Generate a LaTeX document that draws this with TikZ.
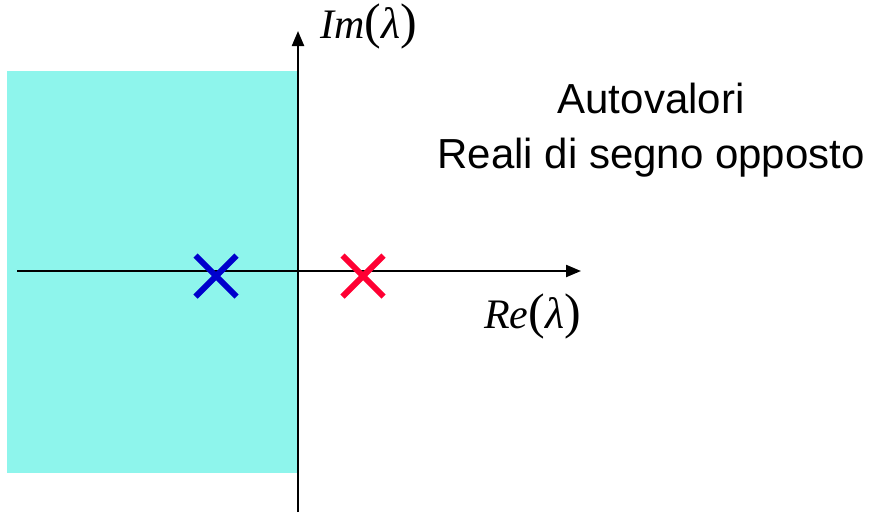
\documentclass[tikz,border=0pt]{standalone}
\usepackage{fontspec}
\setmainfont{Liberation Sans}
\newfontfamily\serifit{Liberation Serif}
\usetikzlibrary{arrows.meta,shapes.misc}
\definecolor{regioncyan}{RGB}{142,245,236}
\definecolor{poleblue}{RGB}{0,0,204}
\definecolor{polered}{RGB}{255,0,51}
\tikzset{
  axisline/.style={line width=2.2pt,-{Triangle[length=15pt,width=12pt]}},
  pole/.style={cross out,draw,line width=6pt,minimum size=41pt,inner sep=0pt,outer sep=0pt},
  axislabel/.style={inner sep=0pt,anchor=base west},
  note/.style={align=center,inner sep=0pt,font=\fontsize{42}{55}\selectfont}
}
\newcommand{\cplxlabel}[1]{{\serifit\fontsize{42}{42}\selectfont\itshape #1}{\serifit\fontsize{50}{50}\selectfont(}{\serifit\fontsize{44}{44}\selectfont\itshape λ}{\serifit\fontsize{50}{50}\selectfont)}}
\begin{document}
\begin{tikzpicture}[x=1pt,y=-1pt]
\useasboundingbox (0,0) rectangle (878,512);
\fill[regioncyan] (7,71) rectangle (297,473);
\coordinate (xstart) at (17,271);
\coordinate (xend) at (581,271);
\coordinate (ystart) at (298,512);
\coordinate (yend) at (298,31);
\draw[axisline] (xstart) -- (xend);
\draw[axisline] (ystart) -- (yend);
\node[pole,draw=poleblue] (p1) at (216,276) {};
\node[pole,draw=polered] (p2) at (363,276) {};
\node[axislabel] (imlab) at (320,38) {\cplxlabel{Im}};
\node[axislabel] (relab) at (484,328) {\cplxlabel{Re}};
\node[note,anchor=base] (txt) at (651,168) {Autovalori\\Reali di segno opposto};
\end{tikzpicture}
\end{document}
